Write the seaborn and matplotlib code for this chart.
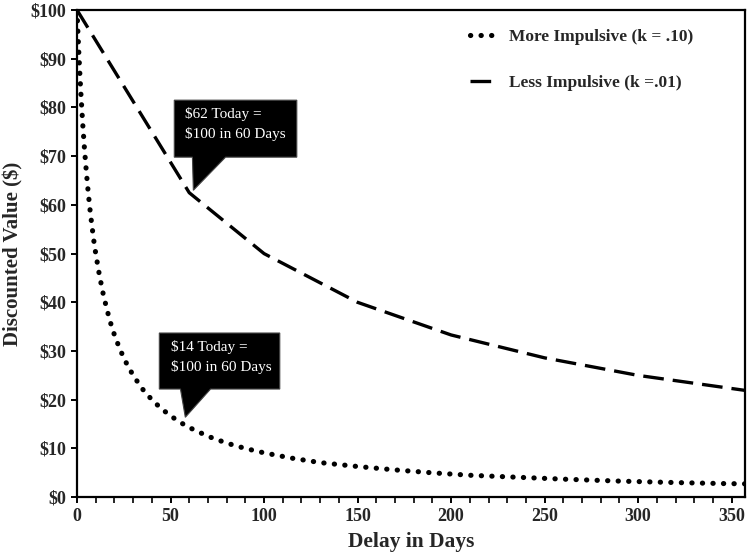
import matplotlib
matplotlib.use("Agg")
import matplotlib.pyplot as plt
import matplotlib.ticker as mticker
from matplotlib.patches import Polygon
import seaborn as sns
import pandas as pd

# ---- data ----
days_more = [0, 0.5, 1, 1.5, 2, 3, 4, 5, 6, 7, 8, 9, 10, 12, 14, 16, 18, 20, 23, 26, 30,
             35, 40, 45, 50, 55, 60, 70, 80, 90, 100, 115, 130, 150, 170, 190, 210,
             235, 260, 290, 320, 345, 365]
value_more = [100, 95.2, 90.9, 87.0, 83.3, 76.9, 71.4, 66.7, 62.5, 58.8, 55.6, 52.6, 50.0,
              45.5, 41.7, 38.5, 35.7, 33.3, 30.3, 27.8, 25.0, 22.2, 20.0, 18.2, 16.7,
              15.4, 14.3, 12.5, 11.1, 10.0, 9.1, 8.0, 7.1, 6.3, 5.6, 5.0, 4.5, 4.1,
              3.7, 3.3, 3.0, 2.8, 2.7]
days_less = [0, 60, 100, 150, 200, 250, 300, 365]
value_less = [100, 62.5, 50.0, 40.0, 33.3, 28.6, 25.0, 21.5]

label_more = "More Impulsive (k = .10)"
label_less = "Less Impulsive (k =.01)"
x_ticks = [0, 50, 100, 150, 200, 250, 300, 350]
y_ticks = [0, 10, 20, 30, 40, 50, 60, 70, 80, 90, 100]
callout_1 = "$62 Today =\n$100 in 60 Days"
callout_2 = "$14 Today =\n$100 in 60 Days"

df_more = pd.DataFrame({"Delay": days_more, "Value": value_more})
df_less = pd.DataFrame({"Delay": days_less, "Value": value_less})

sns.set_theme(style="white")
plt.rcParams["font.family"] = ["Liberation Serif", "DejaVu Serif"]
plt.rcParams["axes.linewidth"] = 1.6

fig = plt.figure(figsize=(7.5, 5.58), dpi=100)
ax = fig.add_axes([0.1027, 0.109, 0.8903, 0.873])

sns.lineplot(data=df_more, x="Delay", y="Value", ax=ax, color="black",
             linewidth=3.7, linestyle=(0, (0.05, 2.0)), dash_capstyle="round",
             label=label_more, sort=False)
sns.lineplot(data=df_less, x="Delay", y="Value", ax=ax, color="black",
             linewidth=2.4, linestyle=(0, (6.2, 2.7)), dash_capstyle="butt",
             label=label_less, sort=False)

ax.set_xlim(0, 357)
ax.set_ylim(0, 100)
ax.set_xticks(x_ticks)
ax.xaxis.set_minor_locator(mticker.MultipleLocator(10))
ax.set_yticks(y_ticks)
ax.set_yticklabels([f"${v}" for v in y_ticks])
ax.set_xticklabels([str(v) for v in x_ticks])
ax.tick_params(axis="both", which="both", direction="out", length=4.5, width=1.4,
               color="black", labelsize=13, pad=3)
ax.tick_params(axis="x", which="minor", bottom=True, length=4.5, width=1.2)
ax.tick_params(axis="y", left=True)
ax.tick_params(axis="x", bottom=True)
for lab in ax.get_xticklabels() + ax.get_yticklabels():
    lab.set_fontweight("bold")
for s in ax.spines.values():
    s.set_visible(True)
    s.set_color("black")
    s.set_linewidth(1.6)
ax.grid(False)

ax.set_xlabel("Delay in Days", fontsize=15.5, fontweight="bold", labelpad=5)
ax.set_ylabel("Discounted Value ($)", fontsize=15, fontweight="bold", labelpad=5)

leg = ax.legend(loc="upper left", bbox_to_anchor=(0.588, 0.962), frameon=False,
                prop={"weight": "bold", "size": 12.5}, handlelength=1.5,
                handletextpad=0.75, labelspacing=1.75, borderpad=0, borderaxespad=0)

def callout(box, tri, lines_xy, text):
    x0, x1, y0, y1 = box
    bl, br, tip = tri
    verts = [(x0, y1), (x1, y1), (x1, y0), (br, y0), tip, (bl, y0), (x0, y0)]
    ax.add_patch(Polygon(verts, closed=True, facecolor="black", edgecolor="#444444",
                         linewidth=0.8, zorder=5))
    ax.text(lines_xy[0], lines_xy[1], text, color="white", fontsize=11,
            fontweight="normal", va="top", ha="left", linespacing=1.5, zorder=6)

callout((52.0, 117.5, 69.8, 81.5), (61.7, 79.4, (62.2, 63.0)), (57.5, 80.0), callout_1)
callout((44.0, 108.4, 22.2, 33.7), (55.3, 71.4, (57.9, 16.4)), (50.0, 32.2), callout_2)

fig.savefig("out.png", dpi=100)
